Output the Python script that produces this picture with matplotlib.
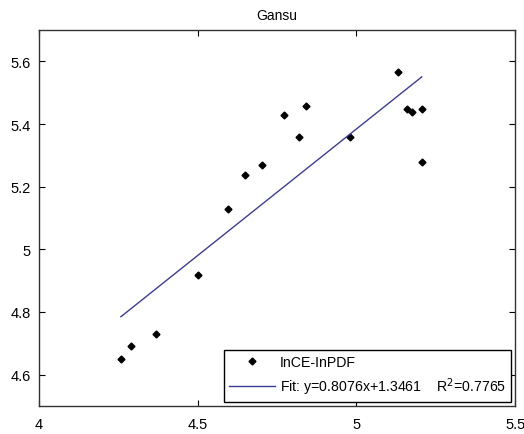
import matplotlib.pyplot as plt
import numpy as np

plt.rcParams['font.family'] = ['Liberation Sans', 'DejaVu Sans']

# data
x_vals = [4.258, 4.291, 4.369, 4.501, 4.596, 4.648, 4.703, 4.771, 4.820, 4.842,
          4.981, 5.132, 5.161, 5.174, 5.206, 5.206]
y_vals = [4.649, 4.692, 4.730, 4.918, 5.128, 5.236, 5.268, 5.429, 5.359, 5.457,
          5.359, 5.565, 5.447, 5.437, 5.447, 5.279]
slope = 0.8076
intercept = 1.3461
r2 = 0.7765
title = 'Gansu'
x_ticks = [4, 4.5, 5, 5.5]
x_tick_labels = ['4', '4.5', '5', '5.5']
y_ticks = [4.6, 4.8, 5.0, 5.2, 5.4, 5.6]
y_tick_labels = ['4.6', '4.8', '5', '5.2', '5.4', '5.6']

fig = plt.figure(figsize=(5.24, 4.35), dpi=100)
ax = fig.add_axes([0.0744, 0.0644, 0.9086, 0.8643])

ax.plot(x_vals, y_vals, 'kD', markersize=3.5, linestyle='none', label='InCE-InPDF')
xf = np.array([min(x_vals), max(x_vals)])
ax.plot(xf, slope * xf + intercept, color='#3c3c9c', linewidth=1,
        label=f'Fit: y={slope}x+{intercept}    R$^2$={r2}')

ax.set_xlim(4, 5.5)
ax.set_ylim(4.5, 5.7)
ax.set_xticks(x_ticks)
ax.set_xticklabels(x_tick_labels)
ax.set_yticks(y_ticks)
ax.set_yticklabels(y_tick_labels)
ax.tick_params(direction='in', top=True, right=True, length=4, labelsize=10.5, pad=6)
ax.tick_params(axis='x', pad=8)
for s in ax.spines.values():
    s.set_linewidth(1.0)
    s.set_color('#333333')
ax.set_title(title, fontsize=10, pad=8)

leg = ax.legend(loc='lower right', fontsize=10.2, handlelength=3.3, handletextpad=0.3,
                fancybox=False, framealpha=1, edgecolor='black', borderaxespad=0.3,
                labelspacing=0.45, borderpad=0.35)
leg.get_frame().set_linewidth(1.0)

fig.savefig('out.png', dpi=100)
